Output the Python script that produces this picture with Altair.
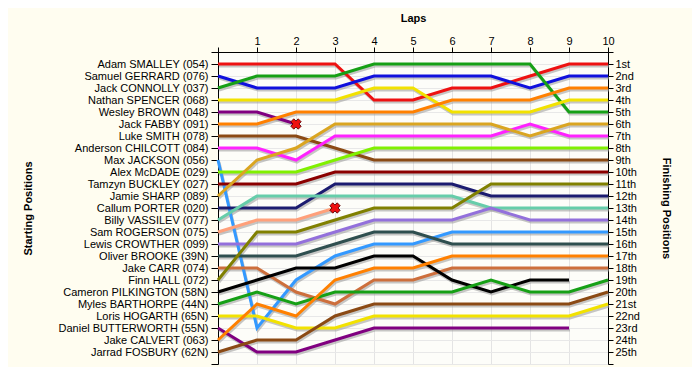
import altair as alt
import pandas as pd

laps = list(range(11))

drivers = [
    "Adam SMALLEY (054)", "Samuel GERRARD (076)", "Jack CONNOLLY (037)",
    "Nathan SPENCER (068)", "Wesley BROWN (048)", "Jack FABBY (091)",
    "Luke SMITH (078)", "Anderson CHILCOTT (084)", "Max JACKSON (056)",
    "Alex McDADE (029)", "Tamzyn BUCKLEY (027)", "Jamie SHARP (089)",
    "Callum PORTER (020)", "Billy VASSILEV (077)", "Sam ROGERSON (075)",
    "Lewis CROWTHER (099)", "Oliver BROOKE (39N)", "Jake CARR (074)",
    "Finn HALL (072)", "Cameron PILKINGTON (58N)", "Myles BARTHORPE (44N)",
    "Loris HOGARTH (65N)", "Daniel BUTTERWORTH (55N)", "Jake CALVERT (063)",
    "Jarrad FOSBURY (62N)",
]

# position of each driver at lap 0..10 (shorter list = stopped earlier)
positions = [
    [1, 1, 1, 1, 4, 4, 3, 3, 2, 1, 1],
    [2, 3, 3, 3, 2, 2, 2, 2, 3, 2, 2],
    [3, 2, 2, 2, 1, 1, 1, 1, 1, 5, 5],
    [4, 4, 4, 4, 3, 3, 5, 5, 5, 4, 4],
    [5, 5, 6],
    [6, 6, 5, 5, 5, 5, 4, 4, 4, 3, 3],
    [7, 7, 7, 8, 9, 9, 9, 9, 9, 9, 9],
    [8, 8, 9, 7, 7, 7, 7, 7, 6, 7, 7],
    [9, 23, 19, 17, 16, 16, 15, 15, 15, 15, 15],
    [10, 10, 10, 9, 8, 8, 8, 8, 8, 8, 8],
    [11, 11, 11, 10, 10, 10, 10, 10, 10, 10, 10],
    [12, 9, 8, 6, 6, 6, 6, 6, 7, 6, 6],
    [13, 13, 13, 11, 11, 11, 11, 12, 12, 12, 12],
    [14, 12, 12, 12, 12, 12, 12, 13, 13, 13, 13],
    [15, 14, 14, 13],
    [16, 16, 16, 15, 14, 14, 14, 13, 14, 14, 14],
    [17, 17, 17, 16, 15, 15, 16, 16, 16, 16, 16],
    [18, 18, 20, 21, 19, 19, 18, 18, 18, 18, 18],
    [19, 15, 15, 14, 13, 13, 13, 11, 11, 11, 11],
    [20, 19, 18, 18, 17, 17, 19, 20, 19, 19],
    [21, 20, 21, 20, 20, 20, 20, 19, 20, 20, 19],
    [22, 22, 23, 23, 22, 22, 22, 22, 22, 22, 21],
    [23, 25, 25, 24, 23, 23, 23, 23, 23, 23],
    [24, 21, 22, 19, 18, 18, 17, 17, 17, 17, 17],
    [25, 24, 24, 22, 21, 21, 21, 21, 21, 21, 20],
]

colors = [
    "#ee1111", "#1010dd", "#16a016", "#f2e200", "#800080", "#ff8000",
    "#8b4a14", "#ff22ff", "#3399ff", "#80f000", "#8b0000", "#daa520",
    "#1c1c70", "#66cdaa", "#ffa07a", "#9370db", "#2f4f4f", "#cd6f3c",
    "#808000", "#000000", "#16a016", "#f2e200", "#800080", "#ff8000",
    "#8b4a14",
]

finish_labels = [
    "1st", "2nd", "3rd", "4th", "5th", "6th", "7th", "8th", "9th", "10th",
    "11th", "12th", "13th", "14th", "15th", "16th", "17th", "18th", "19th",
    "20th", "21st", "22nd", "23rd", "24th", "25th",
]

retired_driver = ["Wesley BROWN (048)", "Sam ROGERSON (075)"]
retired_lap = [2, 3]
retired_pos = [6, 13]

rows = []
for i, (d, ps) in enumerate(zip(drivers, positions)):
    for lap, p in zip(laps, ps):
        rows.append({"driver": d, "lap": lap, "pos": p, "order": i})
df = pd.DataFrame(rows)
ret_df = pd.DataFrame({"driver": retired_driver, "lap": retired_lap, "pos": retired_pos})

FONT = "Liberation Sans"
names_js = "[" + ",".join("'" + n + "'" for n in drivers) + "]"
fin_js = "[" + ",".join("'" + n + "'" for n in finish_labels) + "]"

x_enc = alt.X(
    "lap:Q",
    scale=alt.Scale(domain=[0, 10], nice=False, zero=False),
    axis=alt.Axis(
        orient="top", values=laps, title="Laps", titleFont=FONT, titleFontSize=11,
        titleFontWeight="bold", titleColor="black", titleX=195, titleY=-34,
        titleBaseline="middle", titleAlign="center",
        labelExpr="datum.value == 0 ? '' : datum.value",
        labelFont=FONT, labelFontSize=11, labelColor="black", labelPadding=1,
        tickSize=5, tickColor="black", domainColor="black", labelFlush=False,
        grid=True, gridColor="#e4e4e4", gridWidth=1,
    ),
)

y_scale = alt.Scale(domain=[0, 26], reverse=True, nice=False, zero=False)
y_vals = list(range(27))

y_left = alt.Y(
    "pos:Q", scale=y_scale,
    axis=alt.Axis(
        orient="left", values=y_vals, title="Starting Positions",
        titleFont=FONT, titleFontSize=11, titleFontWeight="bold", titleColor="black",
        titleAngle=270, titleX=-190, titleY=156, titleBaseline="middle", titleAlign="center",
        labelExpr=f"(datum.value >= 1 && datum.value <= 25) ? {names_js}[datum.value - 1] : ''",
        labelFont=FONT, labelFontSize=11, labelColor="black", labelPadding=3,
        tickSize=7, tickColor="black", domainColor="black", labelFlush=False,
        labelOverlap=False, grid=True, gridColor="#e8e8e8", gridWidth=1,
    ),
)

y_right = alt.Y(
    "pos:Q", scale=y_scale,
    axis=alt.Axis(
        orient="right", values=y_vals, title="Finishing Positions",
        titleFont=FONT, titleFontSize=11, titleFontWeight="bold", titleColor="black",
        titleAngle=90, titleX=57, titleY=156, titleBaseline="middle", titleAlign="center",
        labelExpr=f"(datum.value >= 1 && datum.value <= 25) ? {fin_js}[datum.value - 1] : ''",
        labelFont=FONT, labelFontSize=11, labelColor="black", labelPadding=2,
        tickSize=5, tickColor="black", domainColor="black", labelFlush=False,
        labelOverlap=False, grid=False,
    ),
)

color_enc = alt.Color("driver:N", scale=alt.Scale(domain=drivers, range=colors), legend=None)

base = alt.Chart(df)

shadow = base.mark_line(strokeWidth=3, color="#999999", opacity=0.55, xOffset=1, yOffset=2).encode(
    x=x_enc, y=y_left, detail="driver:N", order="lap:Q"
)
lines = base.mark_line(strokeWidth=3).encode(
    x=x_enc, y=y_left, color=color_enc, detail="driver:N", order="lap:Q"
)
markers = alt.Chart(ret_df).mark_point(
    shape="cross", angle=45, filled=True, size=110, color="#ee1111",
    stroke="#550000", strokeWidth=0.8, opacity=1
).encode(x=x_enc, y=y_left)

left_layer = alt.layer(shadow, lines, markers)

right_layer = base.mark_line(opacity=0).encode(
    x=x_enc, y=y_right, detail="driver:N"
)

chart = alt.layer(left_layer, right_layer).resolve_scale(y="independent").properties(
    width=390, height=312,
    autosize=alt.AutoSizeParams(type="none"),
    padding={"left": 210, "top": 44, "right": 84, "bottom": 3},
    background="#fffdf0",
).configure_view(fill="#fdfdf9", stroke=None)

chart.save("out.html", embed_options={"renderer": "svg", "actions": False})
